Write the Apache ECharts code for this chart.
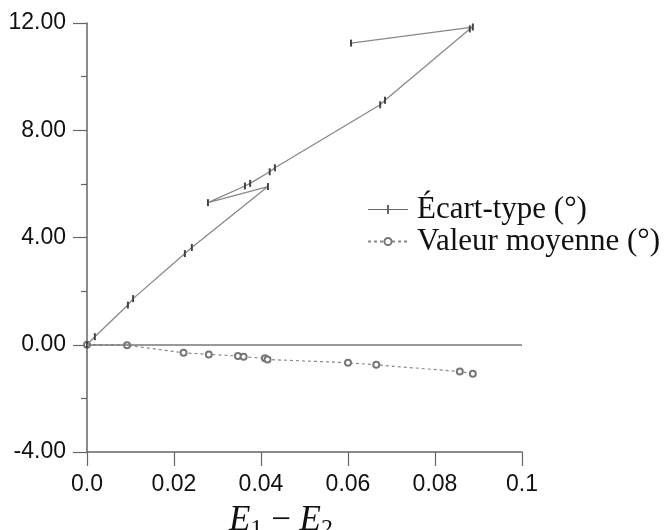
<!DOCTYPE html>
<html>
<head>
<meta charset="utf-8">
<script src="https://cdn.jsdelivr.net/npm/echarts@6/dist/echarts.min.js"></script>
<style>html,body{margin:0;padding:0;background:#fff;}#c{width:667px;height:530px;}</style>
</head>
<body>
<div id="c"></div>
<script>
// Series names
const seriesNames = ['Écart-type (°)', 'Valeur moyenne (°)'];
// Écart-type: x (E1 - E2) and y values, in drawing order
const ecartX = [0.0000, 0.0018, 0.0094, 0.0106, 0.0225, 0.0241, 0.0416, 0.0278, 0.0363, 0.0375, 0.0420, 0.0432, 0.0674, 0.0685, 0.0880, 0.0887, 0.0607];
const ecartY = [0.00, 0.30, 1.48, 1.72, 3.40, 3.63, 5.90, 5.30, 5.92, 6.02, 6.45, 6.60, 8.95, 9.12, 11.78, 11.85, 11.25];
// Valeur moyenne
const moyX = [0.0000, 0.0092, 0.0222, 0.0280, 0.0347, 0.0360, 0.0409, 0.0415, 0.0600, 0.0665, 0.0857, 0.0887];
const moyY = [0.00, -0.02, -0.30, -0.36, -0.42, -0.45, -0.50, -0.55, -0.67, -0.75, -1.00, -1.08];
// Tick labels
const xTickLabels = ['0.0', '0.02', '0.04', '0.06', '0.08', '0.1'];
const yTickLabels = ['-4.00', '0.00', '4.00', '8.00', '12.00'];

const chart = echarts.init(document.getElementById('c'));
const axisCol = '#666';
const sansFont = '"Liberation Sans", Arial, sans-serif';
const serifFont = '"Liberation Serif", "Times New Roman", serif';

chart.setOption({
  animation: false,
  backgroundColor: '#fff',
  grid: { left: 87, right: 145, top: 23, bottom: 78, containLabel: false },
  xAxis: {
    type: 'value', min: 0, max: 0.1, interval: 0.02,
    axisLine: { show: true, onZero: false, lineStyle: { color: axisCol, width: 1.5 } },
    axisTick: { show: true, length: 14, lineStyle: { color: axisCol, width: 1.2 } },
    splitLine: { show: false },
    axisLabel: {
      margin: 21, color: '#111', fontSize: 23, fontFamily: sansFont,
      formatter: v => xTickLabels[Math.round(v / 0.02)]
    }
  },
  yAxis: {
    type: 'value', min: -4, max: 12, interval: 4,
    axisLine: { show: true, onZero: false, lineStyle: { color: axisCol, width: 1.5 } },
    axisTick: { show: true, length: 14, lineStyle: { color: axisCol, width: 1.2 } },
    minorTick: { show: true, splitNumber: 2, length: 6, lineStyle: { color: axisCol, width: 1.2 } },
    splitLine: { show: false },
    axisLabel: {
      margin: 21, color: '#111', fontSize: 23, fontFamily: sansFont,
      formatter: v => yTickLabels[Math.round((v + 4) / 4)]
    }
  },
  legend: {
    orient: 'vertical', left: 362, top: 189,
    itemWidth: 40, itemHeight: 9, itemGap: 1,
    textStyle: { fontFamily: serifFont, fontSize: 31, color: '#111', lineHeight: 30, padding: [0, 0, 0, 4] },
    data: [
      { name: seriesNames[0], icon: 'path://M0,4L19,4L19,0L21,0L21,4L40,4L40,5L21,5L21,9L19,9L19,5L0,5Z', itemStyle: { color: '#666' } },
      { name: seriesNames[1] }
    ]
  },
  graphic: [{
    type: 'text', left: 229, top: 503,
    style: {
      text: '{i|E}{s|1}{n| − }{i|E}{s|2}',
      rich: {
        i: { fontFamily: serifFont, fontStyle: 'italic', fontSize: 35, fill: '#111' },
        s: { fontFamily: serifFont, fontSize: 24, fill: '#111', verticalAlign: 'bottom', padding: [16, 0, 0, 0] },
        n: { fontFamily: serifFont, fontSize: 35, fill: '#111' }
      }
    }
  }],
  series: [
    {
      name: seriesNames[0], type: 'line',
      data: ecartX.map((x, i) => [x, ecartY[i]]),
      symbol: 'rect', symbolSize: [2, 7], showSymbol: true,
      lineStyle: { color: '#888', width: 1.3 },
      itemStyle: { color: '#444' },
      z: 3
    },
    {
      name: seriesNames[1], type: 'line',
      data: moyX.map((x, i) => [x, moyY[i]]),
      symbol: 'emptyCircle', symbolSize: 6,
      lineStyle: { color: '#888', width: 1.2, type: [3, 3] },
      itemStyle: { color: '#777', borderWidth: 1 },
      markLine: {
        silent: true, symbol: 'none', label: { show: false },
        lineStyle: { color: '#777', width: 1.5, type: 'solid' },
        data: [{ yAxis: 0 }]
      },
      z: 2
    }
  ]
});
</script>
</body>
</html>
